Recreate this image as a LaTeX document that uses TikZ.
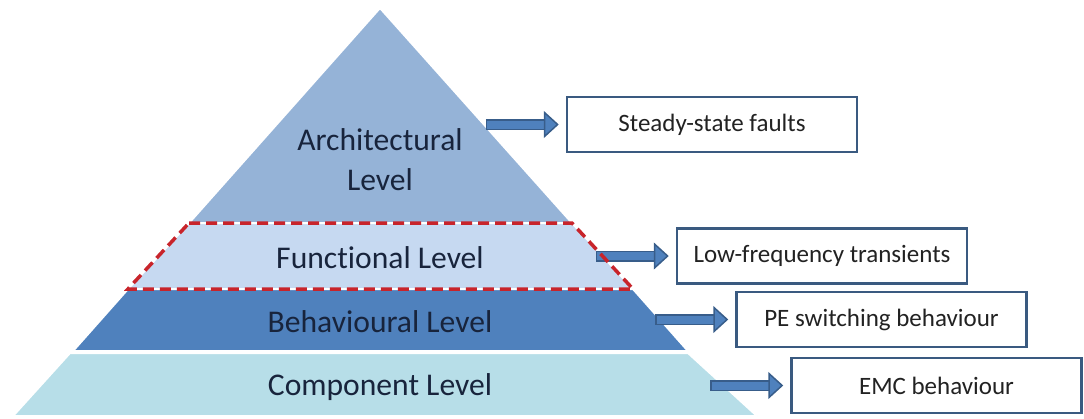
\documentclass[tikz,border=0pt]{standalone}
\usepackage{fontspec}
\setmainfont{Carlito}[Ligatures=NoCommon]
\usetikzlibrary{arrows.meta, positioning}

\definecolor{archblue}{HTML}{95B3D7}
\definecolor{funcblue}{HTML}{C6D9F1}
\definecolor{behavblue}{HTML}{4F81BD}
\definecolor{compblue}{HTML}{B7DEE8}
\definecolor{arrowblue}{HTML}{4F81BD}
\definecolor{arrowedge}{HTML}{385D8A}
\definecolor{boxedge}{HTML}{3A5A80}
\definecolor{dashred}{HTML}{C8242B}
\definecolor{levelink}{HTML}{18243C}
\definecolor{boxink}{HTML}{222222}

\begin{document}
\begin{tikzpicture}[
    x=1pt, y=-1pt,
    layer/.style={draw=white, line width=2pt, line join=round},
    level/.style={font=\fontsize{31.6}{40}\selectfont, text=levelink,
                  align=center, inner sep=0pt},
    effect/.style={rectangle, draw=boxedge, line width=2.5pt, fill=white,
                   minimum width=290pt, minimum height=55pt,
                   font=\fontsize{25}{30}\selectfont, text=boxink},
    flow/.style={draw=arrowblue, line width=8pt, shorten <=1.5pt, shorten >=7pt,
                 -{Triangle[length=15pt, width=27pt, line width=1.5pt,
                            fill=arrowblue, color=arrowedge]},
                 preaction={draw=arrowedge, line width=11pt, -,
                            shorten <=0pt, shorten >=21.5pt}}
]
\useasboundingbox (0,0) rectangle (1084,418);

% pyramid layers, top to bottom
\filldraw[layer, fill=archblue]  (380,8) -- (572,223) -- (189,223) -- cycle;
\filldraw[layer, fill=funcblue]  (189,223) -- (572,223) -- (633,289) -- (128,289) -- cycle;
\filldraw[layer, fill=behavblue] (128,289) -- (633,289) -- (688,351) -- (73,351) -- cycle;
\filldraw[layer, fill=compblue]  (70,353) -- (688,353) -- (757,416) -- (13,416) -- cycle;

% what each level covers
\node[effect] (steady)  at (712,124.5) {Steady-state faults};
\node[effect] (lowfreq) at (822,256)   {Low-frequency transients};
\node[effect] (pesw)    at (881.5,319.5) {PE switching behaviour};
\node[effect] (emc)     at (936.5,385.5) {EMC behaviour};

\coordinate[left=80pt of steady.west]  (a1);
\coordinate[left=80pt of lowfreq.west] (a2);
\coordinate[left=80pt of pesw.west]    (a3);
\coordinate[left=80pt of emc.west]     (a4);

\draw[flow] (a1) -- (steady);
\draw[flow] (a2) -- (lowfreq);
\draw[flow] (a3) -- (pesw);
\draw[flow] (a4) -- (emc);

% highlighted functional level
\draw[dashred, line width=3.5pt, dash pattern=on 11pt off 6pt]
    (189,223) -- (572,223) -- (633,289) -- (128,289) -- cycle;

\node[level] (arch)  at (380,160) {Architectural\\Level};
\node[level] (func)  at (380,258) {Functional Level};
\node[level] (behav) at (380,322) {Behavioural Level};
\node[level] (comp)  at (380,387) {Component Level};
\end{tikzpicture}
\end{document}
